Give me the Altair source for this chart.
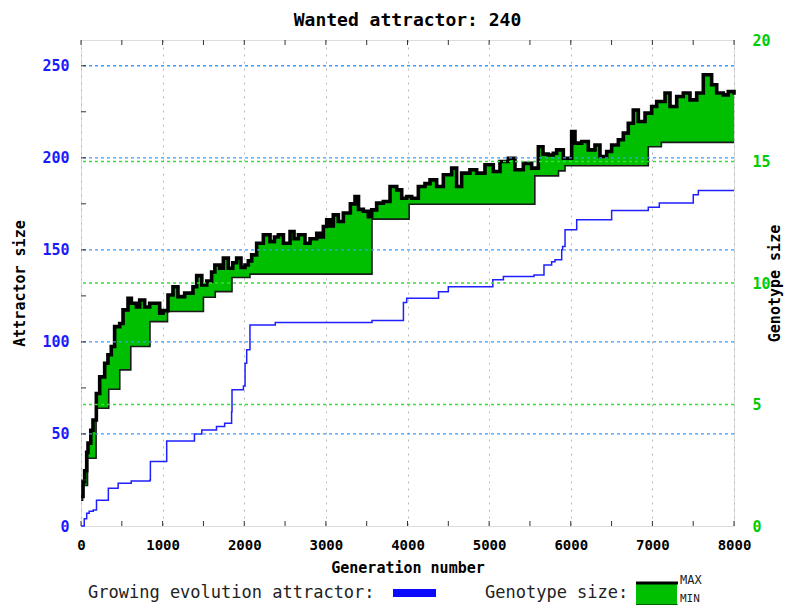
import altair as alt
import pandas as pd

# ---------------- data ----------------
gen_blue = [0, 40, 70, 100, 150, 190, 335, 455, 615, 845, 850, 1050, 1390, 1480, 1660, 1760,
            1845, 1850, 1990, 2010, 2030, 2070, 2380, 3565, 3950, 3990, 4380, 4500, 5045, 5175,
            5550, 5672, 5766, 5807, 5889, 5900, 5930, 6073, 6501, 6950, 7085, 7501, 7563, 8000]
val_blue = [0, 4, 6.9, 8, 8.7, 14, 20.5, 23.2, 24.4, 25, 35, 46.2, 50, 52.2, 54, 55.8,
            62, 74, 76, 88.4, 95.7, 109.2, 110.5, 111.6, 121.4, 123.7, 127.3, 130, 133.7, 135.5,
            136.4, 141.8, 143.6, 144.6, 150, 151.8, 160.9, 166.3, 171.4, 173.2, 175.4, 179.9, 182.2, 182.2]

gen_max = [0, 25, 45, 70, 86, 120, 147, 188, 229, 290, 330, 371, 412, 474, 515, 576, 617, 678,
           719, 780, 841, 923, 964, 1005, 1066, 1127, 1188, 1270, 1372, 1417, 1480, 1540, 1600,
           1640, 1700, 1744, 1805, 1860, 1907, 1960, 2009, 2050, 2091, 2152, 2234, 2316, 2370,
           2418, 2480, 2561, 2610, 2663, 2744, 2806, 2888, 2930, 2969, 3010, 3050, 3091, 3153,
           3214, 3300, 3357, 3400, 3459, 3520, 3561, 3622, 3704, 3786, 3868, 3929, 3990, 4051,
           4133, 4214, 4276, 4357, 4439, 4541, 4602, 4663, 4765, 4847, 4949, 5051, 5133, 5235,
           5317, 5419, 5521, 5603, 5660, 5725, 5786, 5827, 5909, 6011, 6052, 6134, 6215, 6297,
           6358, 6440, 6501, 6583, 6644, 6705, 6766, 6828, 6910, 6991, 7053, 7155, 7216, 7298,
           7379, 7461, 7543, 7624, 7685, 7726, 7788, 7869, 7930, 8000]
val_max = [16, 24, 30, 40, 45, 52, 57.6, 72, 81, 88.4, 93, 97.5, 108.3, 110, 117.4, 123.7, 121, 119,
           122.8, 119, 121, 121, 115.6, 117, 125.5, 130, 124.6, 126.5, 130, 136, 131, 133, 138,
           141.8, 140, 145.5, 140, 143, 145.5, 140.5, 141.8, 144, 147.3, 153.6, 158.2, 154.5, 157,
           158.2, 153.6, 160, 156, 158.2, 153.6, 156, 159, 157, 162.7, 166.3, 163, 169, 165.4,
           170, 175, 179, 172, 171, 168, 171.7, 175.4, 176.3, 184.4, 182.6, 178, 179, 178,
           184.4, 186, 188, 184.4, 190.8, 194.4, 184.4, 191.7, 193.5, 191.7, 196.2, 192.6, 198, 199.8,
           193.5, 197, 194.4, 206, 202, 201.5, 202.5, 204.3, 199.8, 214.3, 208, 208.9, 204.3, 207,
           200.7, 203.4, 207, 209.8, 213.4, 218.8, 226, 219.7, 224.3, 227.9, 230.6, 235.2, 227.9, 233.3,
           235.2, 231.5, 235.2, 245.1, 245.1, 239.7, 235.2, 234.2, 236, 234.2]

gen_min = [0, 20, 80, 185, 340, 475, 610, 845, 1060, 1500, 1645, 1850, 2070, 3565, 4020, 5560,
           5850, 5930, 6950, 7110, 8000]
val_min = [14, 22, 36.8, 64, 74.3, 84.8, 97.5, 111, 116.5, 124.3, 127.3, 135, 136.8, 166.7, 174.8,
           190.2, 192.9, 195.7, 206, 208.4, 208.4]

x_labels = [0, 1000, 2000, 3000, 4000, 5000, 6000, 7000, 8000]
x_minor = [0, 500, 1000, 1500, 2000, 2500, 3000, 3500, 4000, 4500, 5000, 5500, 6000, 6500, 7000, 7500, 8000]
left_labels = [0, 50, 100, 150, 200, 250]
left_minor = [25, 50, 75, 100, 125, 150, 175, 200, 225, 250]
right_labels = [0, 5, 10, 15, 20]
blue_grid = [50, 100, 150, 200, 250]
green_grid = [5, 10, 15]

# ---------------- tables ----------------
xs = sorted(set(gen_max) | set(gen_min))
s_top = pd.Series(val_max, index=gen_max).reindex(xs).ffill()
s_bot = pd.Series(val_min, index=gen_min).reindex(xs).ffill()
area_df = pd.DataFrame({"gen": xs, "top": s_top.values, "bottom": s_bot.values})
max_df = pd.DataFrame({"gen": gen_max, "val": val_max})
min_df = pd.DataFrame({"gen": gen_min, "val": val_min})
blue_df = pd.DataFrame({"gen": gen_blue, "val": val_blue})

FONT = "DejaVu Sans Mono"
W, H = 653, 486

xscale = alt.Scale(domain=[0, 8000], nice=False, zero=False)
xaxis = alt.Axis(values=x_labels, format="d", title="Generation number", grid=True, gridColor="#b8b8b8",
                 gridDash=[2, 5], gridWidth=1, ticks=False, domain=False, labelFont=FONT,
                 labelFontSize=14, labelFontWeight="bold", labelColor="black", labelPadding=12,
                 titleFont=FONT, titleFontSize=15, titleFontWeight="bold", titleColor="black",
                 titlePadding=8, labelFlush=False)

yscale = alt.Scale(domain=[0, 264], nice=False, zero=True)
yaxis = alt.Axis(values=left_labels, title="Attractor size", grid=False, ticks=False, domain=False,
                 labelFont=FONT, labelFontSize=15, labelFontWeight="bold", labelColor="#1a1aff",
                 labelPadding=12, titleFont=FONT, titleFontSize=15, titleFontWeight="bold",
                 titleColor="black", titlePadding=14)


def X(field):
    return alt.X(f"{field}:Q", scale=xscale, axis=xaxis)


def Y(field):
    return alt.Y(f"{field}:Q", scale=yscale, axis=yaxis)


area = alt.Chart(area_df).mark_area(interpolate="step-after", color="#00bf00", opacity=1).encode(
    x=X("gen"), y=Y("top"), y2="bottom:Q")
min_line = alt.Chart(min_df).mark_line(interpolate="step-after", color="#1a1a1a", strokeWidth=1.6).encode(
    x=X("gen"), y=Y("val"))
max_line = alt.Chart(max_df).mark_line(interpolate="step-after", color="black", strokeWidth=3.6).encode(
    x=X("gen"), y=Y("val"))
blue_line = alt.Chart(blue_df).mark_line(interpolate="step-after", color="#1f1fff", strokeWidth=1.5).encode(
    x=X("gen"), y=Y("val"))
blue_rules = alt.Chart(pd.DataFrame({"v": blue_grid})).mark_rule(
    color="#3d9bff", strokeDash=[3, 3], strokeWidth=1.3).encode(y=Y("v"))

xt_df = pd.DataFrame({"t": x_minor})
top_ticks = alt.Chart(xt_df).mark_rule(color="#333", strokeWidth=1).encode(
    x=X("t"), y=alt.value(0), y2=alt.value(5))
bot_ticks = alt.Chart(xt_df).mark_rule(color="#333", strokeWidth=1).encode(
    x=X("t"), y=alt.value(H), y2=alt.value(H - 5))
left_ticks = alt.Chart(pd.DataFrame({"t": left_minor})).mark_rule(color="#333", strokeWidth=1).encode(
    y=Y("t"), x=alt.value(0), x2=alt.value(5))


def label(text, x, y, size=17, weight="normal", baseline="middle"):
    return alt.Chart(pd.DataFrame({"s": [text]})).mark_text(
        font=FONT, fontSize=size, fontWeight=weight, align="left", baseline=baseline, color="#222"
    ).encode(text="s:N", x=alt.value(x), y=alt.value(y))


leg_df = pd.DataFrame({"s": ["legend"]})
leg_blue = alt.Chart(leg_df).mark_rect(color="#0a0aff").encode(
    x=alt.value(312), x2=alt.value(355), y=alt.value(549), y2=alt.value(557))
leg_green = alt.Chart(leg_df).mark_rect(color="#00bf00").encode(
    x=alt.value(555), x2=alt.value(596), y=alt.value(543), y2=alt.value(566))
leg_top = alt.Chart(leg_df).mark_rule(color="black", strokeWidth=3).encode(
    x=alt.value(555), x2=alt.value(597), y=alt.value(543))
leg_bot = alt.Chart(leg_df).mark_rule(color="black", strokeWidth=3).encode(
    x=alt.value(555), x2=alt.value(597), y=alt.value(566))

left = alt.layer(
    area, min_line, max_line, blue_line, blue_rules, top_ticks, bot_ticks, left_ticks,
    label("Growing evolution attractor:", 7, 553),
    leg_blue,
    label("Genotype size:", 404, 553),
    leg_green, leg_top, leg_bot,
    label("MAX", 599, 540, size=12),
    label("MIN", 599, 559, size=11),
)

right = alt.Chart(pd.DataFrame({"v": green_grid})).mark_rule(
    color="#33e033", strokeDash=[3, 3], strokeWidth=1.5).encode(
    y=alt.Y("v:Q", scale=alt.Scale(domain=[0, 20], nice=False),
            axis=alt.Axis(orient="right", values=right_labels, title="Genotype size", grid=False,
                          ticks=False, domain=False, labelFont=FONT, labelFontSize=15,
                          labelFontWeight="bold", labelColor="#00cc00", labelPadding=18,
                          titleFont=FONT, titleFontSize=15, titleFontWeight="bold",
                          titleColor="black", titleAngle=270, titlePadding=12)))

chart = alt.layer(left, right).resolve_scale(y="independent").properties(
    width=W, height=H,
    title=alt.TitleParams("Wanted attractor: 240", font=FONT, fontSize=18, fontWeight="bold",
                          color="black", anchor="middle", offset=3),
    autosize=alt.AutoSizeParams(type="none"),
    padding={"left": 73, "top": 32, "right": 51, "bottom": 79},
).configure_view(stroke="#333", strokeWidth=1.5).configure(background="white")

chart.save("out.html", embed_options={"renderer": "svg", "actions": False})
